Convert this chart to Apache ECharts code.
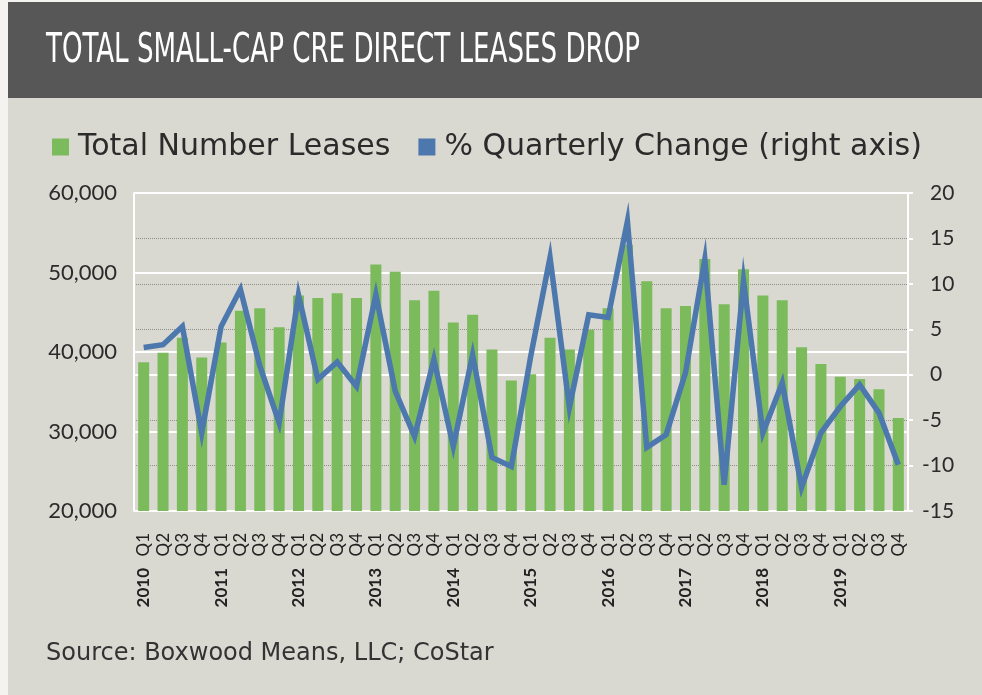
<!DOCTYPE html>
<html>
<head>
<meta charset="utf-8">
<script src="https://cdn.jsdelivr.net/npm/echarts@6/dist/echarts.min.js"></script>
<style>
  html, body { margin: 0; padding: 0; background: #f4f3f0; }
  #main { width: 982px; height: 695px; }
</style>
</head>
<body>
<div id="main"></div>
<script>
// quarters 2010Q1 .. 2019Q4
const years = ['2010', '2011', '2012', '2013', '2014', '2015', '2016', '2017', '2018', '2019'];
const quarters = ['Q1', 'Q2', 'Q3', 'Q4'];

// total number of direct leases (left axis)
const leases = [
  38700, 39900, 41800, 39300,
  41200, 45200, 45500, 43100,
  47100, 46800, 47400, 46800,
  51000, 50100, 46500, 47700,
  43700, 44700, 40300, 36400,
  37200, 41800, 40300, 42800,
  45500, 53500, 48900, 45500,
  45800, 51700, 46000, 50400,
  47100, 46500, 40600, 38500,
  36900, 36600, 35300, 31700
];

// % quarterly change (right axis)
const pctChange = [
  3.0, 3.3, 5.3, -6.4,
  5.3, 9.4, 1.0, -5.3,
  8.8, -0.5, 1.4, -1.3,
  8.8, -1.8, -6.8, 1.7,
  -7.9, 2.2, -9.1, -10.1,
  2.0, 12.9, -3.6, 6.6,
  6.3, 16.9, -8.0, -6.6,
  0.2, 12.7, -12.1, 10.3,
  -6.4, -0.9, -12.4, -6.4,
  -3.5, -1.1, -4.2, -9.9
];

const leftTicks = [20000, 30000, 40000, 50000, 60000];
const rightTicks = [-15, -10, -5, 0, 5, 10, 15, 20];

// category labels
const qLabels = [];
const yearLabels = [];
years.forEach(y => {
  quarters.forEach((q, i) => {
    qLabels.push(q);
    yearLabels.push(i === 0 ? y : '');
  });
});

// squeeze the title to the width it has in the picture
const titleText = 'TOTAL SMALL-CAP CRE DIRECT LEASES DROP';
const titleFont = '41px "DejaVu Sans Condensed", "DejaVu Sans", sans-serif';
const ctx = document.createElement('canvas').getContext('2d');
ctx.font = titleFont;
const titleScale = 594 / ctx.measureText(titleText).width;

const chart = echarts.init(document.getElementById('main'));

chart.setOption({
  backgroundColor: '#d9d8d1',
  animation: false,
  textStyle: { fontFamily: 'Lato, sans-serif' },
  graphic: [
    { type: 'rect', shape: { x: 0, y: 0, width: 8, height: 695 }, style: { fill: '#f4f3f0' }, silent: true },
    { type: 'rect', shape: { x: 8, y: 0, width: 974, height: 2 }, style: { fill: '#f4f3f0' }, silent: true },
    { type: 'rect', shape: { x: 8, y: 2, width: 974, height: 96 }, style: { fill: '#575757' }, silent: true },
    {
      type: 'text', x: 46, y: 51, scaleX: titleScale, silent: true,
      style: { text: titleText, font: titleFont, fill: '#ffffff', textVerticalAlign: 'middle' }
    },
    {
      type: 'text', left: 46, top: 642, silent: true,
      style: { text: 'Source: Boxwood Means, LLC; CoStar', font: '24px "DejaVu Sans", sans-serif', fill: '#333333' }
    }
  ],
  legend: {
    left: 47,
    top: 127,
    icon: 'rect',
    itemWidth: 17,
    itemHeight: 17,
    itemGap: 28,
    textStyle: { fontSize: 30, color: '#2b2b2b', fontFamily: '"DejaVu Sans", sans-serif', padding: [0, 0, 0, 4] },
    data: ['Total Number Leases', '% Quarterly Change (right axis)']
  },
  grid: { left: 134, right: 74, top: 193, bottom: 184 },
  xAxis: [
    {
      type: 'category',
      data: qLabels,
      axisLine: { lineStyle: { color: '#ffffff', width: 2 } },
      axisTick: { show: false },
      axisLabel: { interval: 0, rotate: 90, margin: 22, fontSize: 17, color: '#222222' }
    },
    {
      type: 'category',
      data: yearLabels,
      position: 'bottom',
      axisLine: { show: false },
      axisTick: { show: false },
      axisLabel: { interval: 0, rotate: 90, margin: 57, fontSize: 17, fontWeight: 'bold', color: '#222222' }
    }
  ],
  yAxis: [
    {
      type: 'value',
      min: leftTicks[0],
      max: leftTicks[leftTicks.length - 1],
      interval: 10000,
      z: 1,
      axisLine: { show: true, lineStyle: { color: '#ffffff', width: 2 } },
      axisTick: { show: false },
      splitLine: { lineStyle: { color: '#ffffff', width: 2 } },
      axisLabel: {
        margin: 17, fontSize: 22, color: '#2b2b2b',
        formatter: v => v.toLocaleString('en-US')
      }
    },
    {
      type: 'value',
      position: 'right',
      min: rightTicks[0],
      max: rightTicks[rightTicks.length - 1],
      interval: 5,
      axisLine: { show: true, lineStyle: { color: '#ffffff', width: 2 } },
      axisTick: { show: true, length: 5, lineStyle: { color: '#ffffff', width: 2 } },
      splitLine: { lineStyle: { color: '#8f8e87', type: 'dotted', width: 1 } },
      axisLabel: {
        margin: 14, fontSize: 21, color: '#2b2b2b', align: 'left',
        formatter: v => v < 0 ? '{n|' + v + '}' : '{p|' + v + '}',
        rich: {
          n: { fontSize: 21, color: '#2b2b2b' },
          p: { fontSize: 21, color: '#2b2b2b', padding: [0, 0, 0, 8] }
        }
      }
    }
  ],
  series: [
    {
      name: 'Total Number Leases',
      type: 'bar',
      yAxisIndex: 0,
      barWidth: 11,
      itemStyle: { color: '#7bbb5b' },
      data: leases
    },
    {
      name: '% Quarterly Change (right axis)',
      type: 'line',
      yAxisIndex: 1,
      showSymbol: false,
      symbol: 'none',
      itemStyle: { color: '#4c78ad' },
      lineStyle: { color: '#4c78ad', width: 5.5, join: 'miter' },
      data: pctChange
    }
  ]
});
</script>
</body>
</html>
